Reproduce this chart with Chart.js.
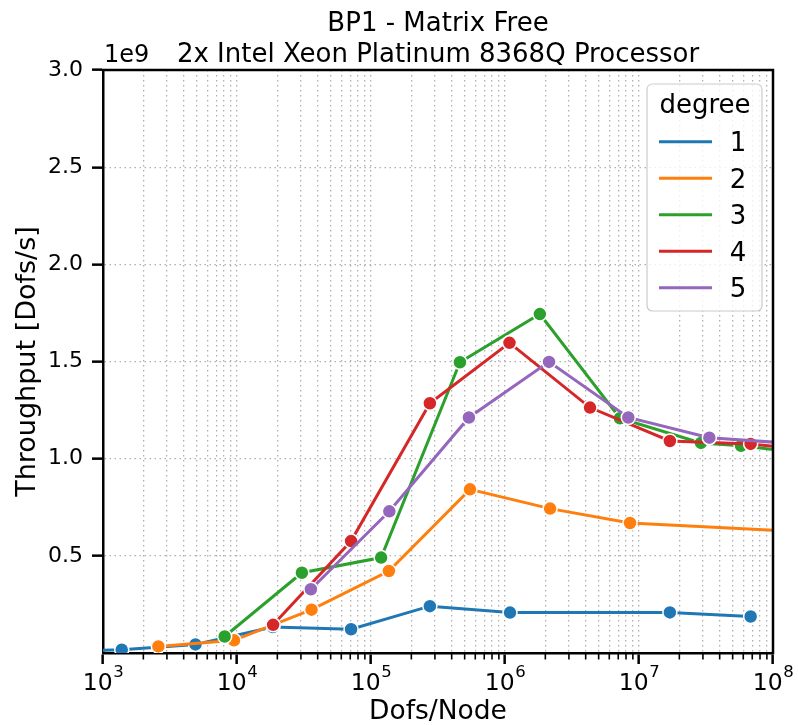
<!DOCTYPE html>
<html>
<head>
<meta charset="utf-8">
<script src="https://cdn.jsdelivr.net/npm/chart.js@4.4.1/dist/chart.umd.min.js"></script>
<style>
html,body{margin:0;padding:0;background:#ffffff;}
#wrap{width:798px;height:725px;position:relative;}
</style>
</head>
<body>
<div id="wrap"><canvas id="c" width="798" height="725"></canvas></div>
<script>
// ---------- text ----------
const titleLines = ['BP1 - Matrix Free', '2x Intel Xeon Platinum 8368Q Processor'];
const xAxisTitle = 'Dofs/Node';
const yAxisTitle = 'Throughput [Dofs/s]';
const yOffsetText = '1e9';
const legendTitle = 'degree';

// ---------- series ----------
const seriesNames = ['1', '2', '3', '4', '5'];
const seriesColors = ['#1f77b4', '#ff7f0e', '#2ca02c', '#d62728', '#9467bd'];

const dofsDeg1 = [350, 1380, 4900, 18500, 71000, 275000, 1090000, 17000000, 68100000];
const thrDeg1  = [0.006e9, 0.017e9, 0.044e9, 0.134e9, 0.122e9, 0.241e9, 0.208e9, 0.209e9, 0.188e9];

const dofsDeg2 = [2590, 9500, 36000, 136000, 548000, 2170000, 8570000, 548000000];
const thrDeg2  = [0.034e9, 0.065e9, 0.223e9, 0.422e9, 0.842e9, 0.743e9, 0.669e9, 0.606e9];

const dofsDeg3 = [8090, 30500, 119000, 461000, 1820000, 7210000, 29000000, 57700000, 232000000];
const thrDeg3  = [0.085e9, 0.413e9, 0.491e9, 1.496e9, 1.744e9, 1.208e9, 1.081e9, 1.066e9, 1.017e9];

const dofsDeg4 = [18600, 71000, 275000, 1080000, 4310000, 17000000, 68100000, 271000000];
const thrDeg4  = [0.145e9, 0.576e9, 1.285e9, 1.596e9, 1.263e9, 1.091e9, 1.076e9, 1.033e9];

const dofsDeg5 = [35600, 137000, 538000, 2130000, 8320000, 33500000, 134000000];
const thrDeg5  = [0.328e9, 0.729e9, 1.212e9, 1.498e9, 1.212e9, 1.108e9, 1.079e9];

// ---------- ticks ----------
const xMajorTickValues = [1e3, 1e4, 1e5, 1e6, 1e7, 1e8];
const xMajorTickBase = '10';
const xMajorTickExponents = ['3', '4', '5', '6', '7', '8'];
const xMinorMultipliers = [2, 3, 4, 5, 6, 7, 8, 9];
const yTickValues = [0.5e9, 1.0e9, 1.5e9, 2.0e9, 2.5e9, 3.0e9];
const yTickLabels = ['0.5', '1.0', '1.5', '2.0', '2.5', '3.0'];

const FONT = "'DejaVu Sans', sans-serif";

const xs = [dofsDeg1, dofsDeg2, dofsDeg3, dofsDeg4, dofsDeg5];
const ys = [thrDeg1, thrDeg2, thrDeg3, thrDeg4, thrDeg5];

const datasets = seriesNames.map((name, i) => ({
  label: name,
  data: xs[i].map((x, j) => ({x: x, y: ys[i][j]})),
  borderColor: seriesColors[i],
  backgroundColor: seriesColors[i],
  pointBackgroundColor: seriesColors[i],
  pointBorderColor: '#ffffff',
  pointBorderWidth: 1.5,
  pointRadius: 7,
  borderWidth: 3,
  tension: 0,
  order: seriesNames.length - i
}));

function isMajorX(v) {
  return xMajorTickValues.some(m => Math.abs(v - m) / m < 1e-9);
}

const decorPlugin = {
  id: 'decor',
  afterDatasetsDraw(chart) {
    const ctx = chart.ctx;
    const a = chart.chartArea;
    const xsc = chart.scales.x;
    ctx.save();
    // top & right spines
    ctx.strokeStyle = '#000000';
    ctx.lineWidth = 2.5;
    ctx.beginPath();
    ctx.moveTo(a.left - 1.25, a.top);
    ctx.lineTo(a.right, a.top);
    ctx.lineTo(a.right, a.bottom + 1.25);
    ctx.stroke();
    // minor x tick marks
    ctx.lineWidth = 1.6;
    xsc.ticks.forEach(t => {
      if (!isMajorX(t.value)) {
        const px = xsc.getPixelForValue(t.value);
        ctx.beginPath();
        ctx.moveTo(px, a.bottom);
        ctx.lineTo(px, a.bottom + 6.5);
        ctx.stroke();
      }
    });
    // legend (inside plot area, top right)
    const lx = 647, ly = 84, lw = 115, lh = 227, r = 6;
    ctx.beginPath();
    ctx.moveTo(lx + r, ly);
    ctx.lineTo(lx + lw - r, ly);
    ctx.quadraticCurveTo(lx + lw, ly, lx + lw, ly + r);
    ctx.lineTo(lx + lw, ly + lh - r);
    ctx.quadraticCurveTo(lx + lw, ly + lh, lx + lw - r, ly + lh);
    ctx.lineTo(lx + r, ly + lh);
    ctx.quadraticCurveTo(lx, ly + lh, lx, ly + lh - r);
    ctx.lineTo(lx, ly + r);
    ctx.quadraticCurveTo(lx, ly, lx + r, ly);
    ctx.closePath();
    ctx.fillStyle = 'rgba(255,255,255,0.8)';
    ctx.fill();
    ctx.strokeStyle = '#cccccc';
    ctx.lineWidth = 1.2;
    ctx.stroke();
    ctx.fillStyle = '#000000';
    ctx.font = '26px ' + FONT;
    ctx.textAlign = 'center';
    ctx.textBaseline = 'alphabetic';
    ctx.fillText(legendTitle, lx + lw / 2 + 0.5, 113);
    chart.data.datasets.forEach((ds, i) => {
      const y = 141.7 + i * 36.5;
      ctx.strokeStyle = ds.borderColor;
      ctx.lineWidth = 3;
      ctx.beginPath();
      ctx.moveTo(659, y);
      ctx.lineTo(712, y);
      ctx.stroke();
      ctx.fillStyle = '#000000';
      ctx.textAlign = 'center';
      ctx.textBaseline = 'alphabetic';
      ctx.fillText(ds.label, 738, y + 9.5);
    });
    ctx.restore();
  },
  afterDraw(chart) {
    const ctx = chart.ctx;
    const a = chart.chartArea;
    const xsc = chart.scales.x;
    ctx.save();
    ctx.fillStyle = '#000000';
    // titles
    ctx.font = '26px ' + FONT;
    ctx.textAlign = 'center';
    ctx.textBaseline = 'alphabetic';
    const cx = (a.left + a.right) / 2;
    ctx.fillText(titleLines[0], cx, 31);
    ctx.fillText(titleLines[1], cx, 62);
    // offset text
    ctx.font = '24px ' + FONT;
    ctx.textAlign = 'left';
    ctx.fillText(yOffsetText, a.left + 1, 62);
    // x major tick labels: base with superscript exponent
    const baseFont = '23.5px ' + FONT;
    const expFont = '16.5px ' + FONT;
    xMajorTickValues.forEach((m, k) => {
      const px = xsc.getPixelForValue(m);
      ctx.font = baseFont;
      const wb = ctx.measureText(xMajorTickBase).width;
      ctx.font = expFont;
      const we = ctx.measureText(xMajorTickExponents[k]).width;
      const x0 = px - (wb + we) / 2;
      ctx.font = baseFont;
      ctx.textAlign = 'left';
      ctx.fillText(xMajorTickBase, x0, 690);
      ctx.font = expFont;
      ctx.fillText(xMajorTickExponents[k], x0 + wb + 0.5, 677);
    });
    ctx.restore();
  }
};

new Chart(document.getElementById('c'), {
  type: 'line',
  data: {datasets: datasets},
  plugins: [decorPlugin],
  options: {
    responsive: false,
    animation: false,
    devicePixelRatio: 1,
    layout: {padding: {left: 0, right: 25, top: 70, bottom: 0}},
    plugins: {legend: {display: false}, title: {display: false}, tooltip: {enabled: false}},
    scales: {
      x: {
        type: 'logarithmic',
        min: 1e3,
        max: 1e8,
        afterBuildTicks(scale) {
          const t = [];
          xMajorTickValues.forEach((m, k) => {
            t.push({value: m, major: true});
            if (k < xMajorTickValues.length - 1) {
              xMinorMultipliers.forEach(mm => t.push({value: m * mm, major: false}));
            }
          });
          scale.ticks = t;
        },
        afterFit(scale) { scale.height = 72; },
        ticks: {
          autoSkip: false,
          maxRotation: 0,
          minRotation: 0,
          padding: 4,
          color: '#000000',
          font: {family: FONT, size: 22},
          callback() { return ''; }
        },
        grid: {
          color: '#b0b0b0',
          lineWidth: 1.3,
          drawTicks: true,
          tickLength: 11,
          tickWidth: 2.5,
          tickColor: (c) => (c.tick && isMajorX(c.tick.value)) ? '#000000' : 'rgba(0,0,0,0)'
        },
        border: {display: true, color: '#000000', width: 2.5, dash: [1.5, 3.5]},
        title: {
          display: true,
          text: xAxisTitle,
          color: '#000000',
          font: {family: FONT, size: 26.5, lineHeight: 1.0},
          padding: {top: 0, bottom: 0}
        }
      },
      y: {
        type: 'linear',
        min: 0,
        max: 3e9,
        afterBuildTicks(scale) {
          scale.ticks = yTickValues.map(v => ({value: v}));
        },
        afterFit(scale) { scale.width = 103; },
        ticks: {
          padding: 9,
          color: '#000000',
          font: {family: FONT, size: 22},
          callback(value) {
            const k = yTickValues.findIndex(v => Math.abs(value - v) < 1);
            return k >= 0 ? yTickLabels[k] : '';
          }
        },
        grid: {
          color: '#b0b0b0',
          lineWidth: 1.3,
          drawTicks: true,
          tickLength: 11,
          tickWidth: 2.5,
          tickColor: '#000000'
        },
        border: {display: true, color: '#000000', width: 2.5, dash: [1.5, 3.5]},
        title: {
          display: true,
          text: yAxisTitle,
          color: '#000000',
          font: {family: FONT, size: 27, lineHeight: 1.2},
          padding: {top: 12, bottom: 0}
        }
      }
    }
  }
});
</script>
</body>
</html>
